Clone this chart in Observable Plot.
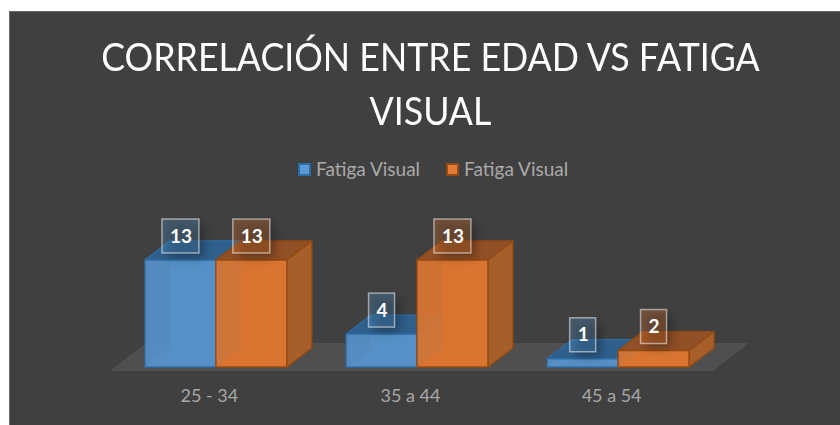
<!DOCTYPE html>
<html><head><meta charset="utf-8">
<script src="https://cdn.jsdelivr.net/npm/d3@7"></script>
<script src="https://cdn.jsdelivr.net/npm/@observablehq/plot@0.6"></script>
<style>
html,body{margin:0;background:#fff;}
#panel{position:absolute;left:9px;top:11px;width:831px;height:414px;background:#404040;overflow:hidden;box-shadow:inset 1px 1px 0 #6a6a6a;}
#chart{position:absolute;left:-9px;top:-11px;width:840px;height:425px;font-family:Lato,sans-serif;}
#title{position:absolute;left:0;top:29px;width:861px;text-align:center;color:#fff;font-size:38px;line-height:54px;font-weight:400;transform:scaleX(0.94);}
#legend{position:absolute;left:298px;top:158px;color:#a9a9a9;font-size:19px;line-height:22px;white-space:nowrap;display:flex;}
#legend span.i{display:flex;align-items:center;margin-right:26px;}
#legend i{display:inline-block;width:13px;height:13px;margin-right:5px;box-sizing:border-box;border:2px solid;}
#plot{position:absolute;left:0;top:195px;}
</style></head><body>
<div id="panel"><div id="chart">
<div id="title">CORRELACIÓN ENTRE EDAD VS FATIGA<br>VISUAL</div>
<div id="legend"></div>
<div id="plot"></div>
</div></div>
<script>
const categories = ["25 - 34","35 a 44","45 a 54"];
const seriesNames = ["Fatiga Visual","Fatiga Visual"];
const seriesA = [13,4,1];
const seriesB = [13,13,2];
const fills = ["#5b9bd5","#e57a33"];
const faceFills = ["#5690c8","#da7531"];
const sideFills = ["#3f6f9e","#a65f2a"];
const topFills = ["#2f5f8c","#925026"];
const edges = ["#2e6ca4","#944a12"];

const table = categories.flatMap((c,i)=>[
  {category:c,series:0,value:seriesA[i]},
  {category:c,series:1,value:seriesB[i]}
]);

d3.select("#legend").selectAll("span").data(seriesNames).join("span").attr("class","i")
  .html((d,i)=>`<i style="background:${fills[i]};border-color:${edges[i]}"></i>${d}`);

const DX=25, DY=19;
const svgNS="http://www.w3.org/2000/svg";
function el(tag,attrs){const e=document.createElementNS(svgNS,tag);for(const k in attrs)e.setAttribute(k,attrs[k]);return e;}

function faces(index,scales,values,dim,ctx){
  const g=el("g",{});
  for(const i of index){
    const d=table[i];
    const x0=values.x[i], x1=x0+scales.x.bandwidth(), y1=values.y2[i], y0=scales.y(0);
    const col=faceFills[d.series], edge=edges[d.series];
    const poly=(pts,fill,fo,so=1)=>g.appendChild(el("polygon",{points:pts.map(p=>p.join(",")).join(" "),fill,"fill-opacity":fo,stroke:edge,"stroke-opacity":so,"stroke-width":1.3,"stroke-linejoin":"round"}));
    poly([[x0+DX,y1-DY],[x1+DX,y1-DY],[x1+DX,y0-DY],[x0+DX,y0-DY]],col,0.9,0.25);
    poly([[x0,y0],[x1,y0],[x1+DX,y0-DY],[x0+DX,y0-DY]],col,0.9,0.25);
    poly([[x1,y1],[x1+DX,y1-DY],[x1+DX,y0-DY],[x1,y0]],sideFills[d.series],1);
    poly([[x0,y1],[x1,y1],[x1+DX,y1-DY],[x0+DX,y1-DY]],topFills[d.series],1);
    poly([[x0,y1],[x1,y1],[x1,y0],[x0,y0]],col,0.92);
  }
  return g;
}

function floor(index,scales,values,dim){
  const y0=scales.y(0)+4, l=scales.fx(categories[0])-35, r=scales.fx(categories[2])+scales.fx.bandwidth()+24;
  return el("polygon",{points:`${l},${y0} ${r},${y0} ${r+36},${y0-28} ${l+36},${y0-28}`,fill:"#504f4f"});
}

function boxes(index,scales,values,dim,ctx,next){
  const g=el("g",{});
  const defs=el("defs",{});const f=el("filter",{id:"blur",x:"-50%",y:"-50%",width:"200%",height:"200%"});
  f.appendChild(el("feGaussianBlur",{stdDeviation:5}));defs.appendChild(f);g.appendChild(defs);
  for(const i of index){
    const d=table[i], w=String(d.value).length>1?37:26, h=34;
    const cx=values.x[i]+scales.x.bandwidth()/2, cy=values.y[i]-24;
    g.appendChild(el("rect",{x:cx-w/2+5,y:cy-h/2+5,width:w,height:h,fill:"#000","fill-opacity":0.3,filter:"url(#blur)"}));
    g.appendChild(el("rect",{x:cx-w/2,y:cy-h/2,width:w,height:h,fill:fills[d.series],"fill-opacity":0.3,stroke:"#fff","stroke-opacity":0.5,"stroke-width":1.5}));
  }
  g.appendChild(next(index,scales,values,dim,ctx));
  return g;
}

const chart=Plot.plot({
  width:840,height:220,
  marginLeft:145,marginRight:151,marginTop:65,marginBottom:48,
  style:{background:"transparent",fontFamily:"Lato,sans-serif",overflow:"visible"},
  fx:{domain:categories,padding:0.295,label:null,round:false},
  x:{domain:[0,1],axis:null,padding:0,round:false},
  y:{domain:[0,13],axis:null},
  marks:[
    Plot.frame({facet:"super",stroke:"none",render:floor}),
    Plot.barY(table,{fx:"category",x:"series",y:"value",fill:d=>fills[d.series],render:faces}),
    Plot.text(table,{fx:"category",x:"series",y:"value",text:"value",dy:-24,fill:"#fff",fontSize:19,fontWeight:700,render:boxes}),
    Plot.axisFx({anchor:"bottom",tickSize:0,tickPadding:22,dx:-7,fontSize:18,color:"#a6a6a6",label:null})
  ]
});
document.getElementById("plot").appendChild(chart);
</script>
</body></html>
